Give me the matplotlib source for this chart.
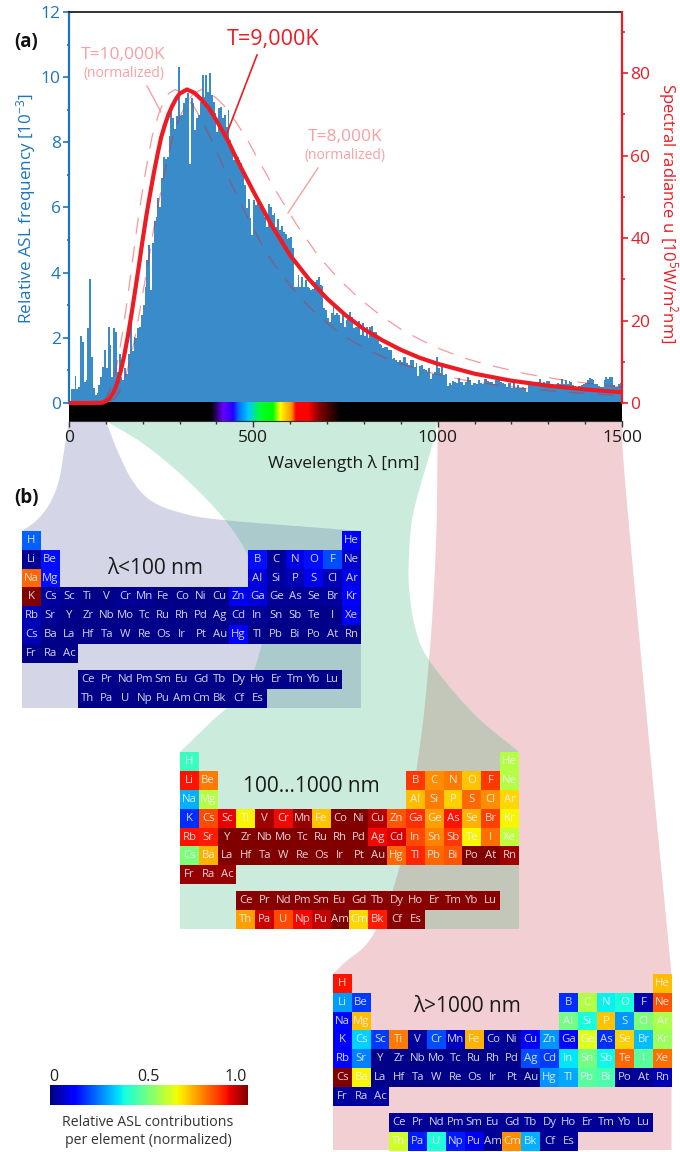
import numpy as np
import matplotlib
matplotlib.use('Agg')
import matplotlib.pyplot as plt
from matplotlib.patches import PathPatch
from matplotlib.path import Path

plt.rc('font', family=['Open Sans', 'DejaVu Sans'], size=12)
plt.rc('mathtext', default='regular')

W, H = 680, 1152

# relative ASL frequency [1e-3], bins of 5 nm
bin_width = 5
asl_freq = [
    .05, .42, .42, .83, .42, .5, 2.05, 1.88, .65, .7,
    2.3, 3.8, 1.42, .45, .25, .3, .55, .8, 1.1, 1.63,
    1.06, 2.34, 1.78, .8, 2.3, 2.19, .96, 1.5, .8, .7,
    1.06, .9, 1.5, 2.7, 1.6, 2.03, 2.0, 2.3, 2.34, 2.7,
    3.0, 3.57, 4.4, 4.85, 3.47, 4.9, 5.6, 5.7, 6.3, 6.0,
    6.9, 7.56, 7.5, 7.56, 8.2, 8.95, 8.75, 8.4, 8.8, 10.3,
    8.8, 8.85, 9.2, 9.35, 9.5, 7.35, 9.35, 9.2, 8.38, 8.74,
    8.84, 9.25, 10.07, 9.4, 10.07, 9.55, 10.12, 9.45, 9.25, 8.89,
    8.33, 9.06, 9.09, 8.74, 8.84, 8.48, 8.99, 8.07, 7.71, 7.46,
    7.51, 7.54, 7.46, 7.36, 7.15, 6.69, 5.97, 6.25, 5.67, 5.16,
    6.23, 6.08, 6.13, 6.03, 5.97, 5.92, 5.72, 5.41, 6.11, 6.03,
    5.77, 5.84, 5.41, 5.64, 5.31, 5.43, 5.26, 5.19, 5.02, 5.05,
    5.1, 4.75, 3.57, 3.57, 3.93, 3.57, 3.88, 3.57, 3.77, 3.57,
    3.52, 3.47, 3.49, 3.72, 3.77, 3.88, 3.62, 3.59, 2.91, 2.85,
    2.6, 2.5, 2.75, 2.96, 2.7, 2.75, 2.7, 2.44, 2.7, 2.34,
    2.55, 2.6, 2.8, 2.65, 2.29, 2.32, 2.32, 2.53, 2.09, 2.47,
    2.06, 2.32, 1.98, 2.34, 2.37, 2.19, 2.19, 1.93, 1.81, 1.78,
    1.68, 1.73, 1.73, 1.63, 1.63, 1.34, 1.37, 1.32, 1.27, 1.32,
    1.27, 1.42, 1.42, 1.22, 1.17, 1.32, 1.32, 1.12, 1.22, .83,
    1.14, 1.17, 1.05, 1.01, .96, 1.08, .73, .9, .95, 1.42,
    1.06, .91, 1.12, .86, .9, .52, .6, .55, .69, .63,
    .6, .76, .65, .65, .55, .65, .81, .71, .55, .6,
    .62, .57, .71, .6, .57, .74, .74, .68, .65, .63,
    .57, .71, .84, .71, .63, .6, .57, .5, .6, .6,
    .47, .6, .45, .55, .47, .45, .5, .45, .35, .69,
    .63, .65, .6, .6, .65, .73, .57, .65, .57, .68,
    .69, .53, .5, .5, .58, .61, .58, .74, .57, .71,
    .58, .68, .65, .55, .53, .5, .53, .53, .55, .57,
    .6, .72, .76, .73, .72, .57, .57, .53, .5, .5,
    .71, .79, .73, .81, .79, .55, .5, .5, .58, .6,
]

# spectral radiance curves, right axis units
wl_9000 = [0, 50, 90, 100, 110, 120, 130, 140, 150, 160, 170, 180, 190, 200, 210, 220, 230, 240, 250,
           260, 270, 280, 290, 300, 320, 340, 360, 380, 400, 430, 460, 500, 550, 600, 650, 700,
           750, 800, 850, 900, 950, 1000, 1100, 1200, 1300, 1400, 1500]
u_9000 = [0, 0, .05, .42, 1.13, 2.46, 4.6, 7.6, 11.6, 16.4, 21.8, 27.6, 33.5, 39.7, 45.5, 50.7, 55.7, 60.2, 64.4,
          67.4, 70, 72, 73.7, 75, 76, 75.2, 73.5, 71.4, 68.5, 63.8, 58.2, 51.3, 43, 35.8, 30.1, 25.3,
          21.3, 17.9, 15.2, 12.9, 11, 9.5, 7.1, 5.4, 4.2, 3.3, 2.6]
wl_10000 = [90, 99, 108, 117, 126, 135, 144, 153, 162, 171, 180, 189, 198, 207, 216, 225, 234,
            243, 252, 261, 270, 288, 306, 324, 342, 360, 387, 414, 450, 495, 540, 585, 630, 675,
            720, 765, 810, 855, 900, 990, 1080, 1170, 1260, 1350, 1500]
u_10000 = [.42, 1.13, 2.46, 4.6, 7.6, 11.6, 16.4, 21.8, 27.6, 33.5, 39.7, 45.5, 50.7, 55.7, 60.2, 64.4, 67.4,
           70, 72, 73.7, 75, 76, 75.2, 73.5, 71.4, 68.5, 63.8, 58.2, 51.3, 43, 35.8, 30.1, 25.3, 21.3,
           17.9, 15.2, 12.9, 11, 9.5, 7.1, 5.4, 4.2, 3.3, 2.6, 1.8]
wl_8000 = [112, 124, 135, 146, 157, 169, 180, 191, 202, 214, 225, 236, 248, 259, 270, 281, 292,
           304, 315, 326, 338, 360, 382, 405, 428, 450, 484, 518, 562, 619, 675, 731, 788, 844,
           900, 956, 1012, 1069, 1125, 1238, 1350, 1462, 1500]
u_8000 = [.42, 1.13, 2.46, 4.6, 7.6, 11.6, 16.4, 21.8, 27.6, 33.5, 39.7, 45.5, 50.7, 55.7, 60.2, 64.4, 67.4,
          70, 72, 73.7, 75, 76, 75.2, 73.5, 71.4, 68.5, 63.8, 58.2, 51.3, 43, 35.8, 30.1, 25.3, 21.3,
          17.9, 15.2, 12.9, 11, 9.5, 7.1, 5.4, 4.2, 3.8]

# visible spectrum strip under the histogram
spec_wl = [0, 385, 418, 445, 460, 486, 518, 553, 572, 604, 615, 648, 680, 735, 1500]
spec_rgb = ['#000000', '#000000', '#6600ff', '#2200ff', '#0070ff', '#00c8ff', '#00ff30', '#00ff00',
            '#ffff00', '#ff9000', '#ff0000', '#ff0000', '#800000', '#000000', '#000000']

# periodic table layout
row_syms = [
    ['H', 'He'],
    ['Li', 'Be', 'B', 'C', 'N', 'O', 'F', 'Ne'],
    ['Na', 'Mg', 'Al', 'Si', 'P', 'S', 'Cl', 'Ar'],
    ['K', 'Cs', 'Sc', 'Ti', 'V', 'Cr', 'Mn', 'Fe', 'Co', 'Ni', 'Cu', 'Zn', 'Ga', 'Ge', 'As', 'Se', 'Br', 'Kr'],
    ['Rb', 'Sr', 'Y', 'Zr', 'Nb', 'Mo', 'Tc', 'Ru', 'Rh', 'Pd', 'Ag', 'Cd', 'In', 'Sn', 'Sb', 'Te', 'I', 'Xe'],
    ['Cs', 'Ba', 'La', 'Hf', 'Ta', 'W', 'Re', 'Os', 'Ir', 'Pt', 'Au', 'Hg', 'Tl', 'Pb', 'Bi', 'Po', 'At', 'Rn'],
    ['Fr', 'Ra', 'Ac'],
    ['Ce', 'Pr', 'Nd', 'Pm', 'Sm', 'Eu', 'Gd', 'Tb', 'Dy', 'Ho', 'Er', 'Tm', 'Yb', 'Lu'],
    ['Th', 'Pa', 'U', 'Np', 'Pu', 'Am', 'Cm', 'Bk', 'Cf', 'Es'],
]
row_pos = [0, 1, 2, 3, 4, 5, 6, 8, 9]
row_cols = [[0, 17], [0, 1, 12, 13, 14, 15, 16, 17], [0, 1, 12, 13, 14, 15, 16, 17],
            list(range(18)), list(range(18)), list(range(18)), [0, 1, 2],
            list(range(3, 17)), list(range(3, 13))]

# contributions per element, colours read back through the jet scale
vals_low = [
    [.22, .12],
    [.02, .14, .14, .02, .09, .14, .2, .07],
    [.8, .14, .08, .03, .05, .1, .05, .09],
    [1.0, .03, .02, .01, .01, .02, .02, .01, .01, .01, .01, .1, .08, .02, .02, .02, .03, .12],
    [.05, .02, .01, .01, .01, .01, .01, .01, .01, .01, .01, .03, .02, .01, .01, .01, .01, .1],
    [.05, .01, .01, .01, .01, .01, .01, .01, .01, .01, .01, .12, .01, .01, .01, .01, .01, .01],
    [.01, .01, .01],
    [.01] * 14,
    [.01] * 10,
]
vals_mid = [
    [.42, .57],
    [.89, .78, .85, .76, .78, .70, .85, .57],
    [.3, .57, .71, .78, .69, .8, .76, .68],
    [.17, .83, .91, .65, .97, .9, .98, .7, 1.0, 1.0, .95, .82, .86, .74, .89, .72, .84, .65],
    [.89, .88, 1.0, 1.0, 1.0, 1.0, 1.0, 1.0, 1.0, 1.0, .9, .92, .83, .77, .85, .65, .79, .58],
    [.5, .72, 1.0, 1.0, 1.0, 1.0, 1.0, 1.0, 1.0, 1.0, 1.0, .8, .87, .8, .82, 1.0, 1.0, .97],
    [.98, .98, .98],
    [.99] * 14,
    [.74, .93, .83, .9, .94, 1.0, .68, .88, .99, .99],
]
vals_high = [
    [.89, .71],
    [.28, .18, .17, .57, .36, .38, .04, .82],
    [.13, .71, .49, .38, .7, .27, .5, .56],
    [.11, .33, .18, .78, .03, .2, .06, .72, .03, .02, .11, .27, .13, .62, .17, .69, .31, .54],
    [.13, .25, .01, .01, .01, .01, .01, .01, .01, .01, .2, .18, .35, .49, .37, .8, .46, .79],
    [1.0, .65, .01, .01, .01, .01, .01, .01, .01, .01, .01, .27, .29, .46, .44, .02, .02, .05],
    [.03, .03, .03],
    [.02] * 14,
    [.6, .15, .39, .15, .1, .02, .76, .3, .02, .02],
]

blue = '#1C75BC'
red = '#ED1C24'
pink = '#F8A0A4'
cell = 18.83
gap = 0.39


def px_axes(x, y, w, h, **kw):
    # axes placed by pixel box, y measured from the top
    return fig.add_axes([x / W, 1 - (y + h) / H, w / W, h / H], **kw)


def smooth(pts, n=12):
    # catmull-rom through hand picked outline points
    p = np.array(pts, dtype=float)
    p = np.vstack([2 * p[0] - p[1], p, 2 * p[-1] - p[-2]])
    out = []
    for i in range(1, len(p) - 2):
        for t in np.linspace(0, 1, n, endpoint=False):
            a = 2 * p[i] + (p[i + 1] - p[i - 1]) * t
            b = (2 * p[i - 1] - 5 * p[i] + 4 * p[i + 1] - p[i + 2]) * t ** 2
            c = (-p[i - 1] + 3 * p[i] - 3 * p[i + 1] + p[i + 2]) * t ** 3
            out.append(0.5 * (a + b + c))
    out.append(p[-2])
    return np.array(out)


def ribbon(ax, outline, color, **kw):
    patch = PathPatch(Path(np.vstack(outline + [outline[0][:1]])), fc=color, ec='none', lw=0, **kw)
    ax.add_patch(patch)
    return patch


fig = plt.figure(figsize=(W / 100, H / 100), dpi=100, facecolor='white')

# ribbons linking the wavelength axis to the tables
bg = px_axes(0, 0, W, H, zorder=0)
bg.set_xlim(0, W)
bg.set_ylim(H, 0)
bg.axis('off')

purple_out = [
    smooth([(106, 421), (118, 452), (132, 480), (150, 500), (178, 512), (223, 520), (361, 531)]),
    np.array([(361, 708), (22, 708)]),
    smooth([(22, 531), (37, 520), (50, 503), (59, 480), (65, 445), (69, 421)]),
]
green_out = [
    smooth([(438, 421), (430, 453), (420, 487), (412, 520), (409, 555), (409, 587), (415, 627),
            (429, 660), (473, 713), (519, 752)]),
    np.array([(519, 929), (180, 929)]),
    smooth([(180, 752), (213, 720), (245, 690), (262, 643), (265, 610), (250, 560), (225, 520),
            (187, 480), (145, 445), (106, 421)]),
]
pink_out = [
    smooth([(622, 421), (625, 480), (648, 730), (671.5, 974)]),
    np.array([(671.5, 1150), (333, 1150), (333, 974)]),
    smooth([(342, 965), (373, 935), (400, 865), (420, 745), (429, 660), (434, 587), (436.7, 520),
            (437.5, 453), (438, 421)]),
]
p1 = ribbon(bg, purple_out, '#D5D5E8')
p3 = ribbon(bg, pink_out, '#F1CFD3')
p2 = ribbon(bg, green_out, '#CBEBDD')
ov1 = ribbon(bg, green_out, '#ABCACB')
ov1.set_clip_path(p1)
ov2 = ribbon(bg, green_out, '#C2C7BA')
ov2.set_clip_path(p3)

# panel (a)
ax = px_axes(69, 12, 553, 409, zorder=2)
ax.patch.set_alpha(0)
edges = np.arange(len(asl_freq) + 1) * bin_width
ax.stairs(asl_freq, edges, fill=True, color='#398CC9', lw=0)

spec_r = np.array([matplotlib.colors.to_rgb(c) for c in spec_rgb])
strip_x = np.arange(1500)
strip = np.stack([np.interp(strip_x, spec_wl, spec_r[:, k]) for k in range(3)], axis=-1)[np.newaxis]
ax.imshow(strip, extent=[0, 1500, -0.5525, 0], aspect='auto', zorder=1)

ax.set_xlim(0, 1500)
ax.set_ylim(-0.5525, 12)
ax.set_xticks([0, 500, 1000, 1500])
ax.set_xticks(np.arange(0, 1501, 100), minor=True)
ax.set_yticks(np.arange(0, 13, 2))
ax.set_yticks(np.arange(0, 12.1, 1), minor=True)
ax.tick_params(axis='x', which='major', length=4.5, width=1, color='#333333', labelsize=12.5, pad=2,
               labelcolor='#1a1a1a')
ax.tick_params(axis='x', which='minor', length=2.2, width=1, color='#333333')
ax.tick_params(axis='y', which='major', length=4, width=1.2, color=blue, labelcolor=blue, labelsize=12.5, pad=2)
ax.tick_params(axis='y', which='minor', length=1.6, width=1.2, color=blue)
ax.spines['left'].set_bounds(0, 12)
ax.spines['left'].set_color(blue)
ax.spines['left'].set_linewidth(1.6)
ax.spines['top'].set_color('#222222')
ax.spines['top'].set_linewidth(1.3)
ax.spines['bottom'].set_color('#333333')
ax.spines['right'].set_visible(False)

ax2 = ax.twinx()
ax2.set_zorder(3)
ax2.set_ylim(-18 / 4.125, 391 / 4.125)
ax2.set_yticks(np.arange(0, 81, 20))
ax2.set_yticks(np.arange(0, 91, 10), minor=True)
ax2.tick_params(axis='y', which='major', length=4, width=1.2, color=red, labelcolor=red, labelsize=12.5, pad=2)
ax2.tick_params(axis='y', which='minor', length=1.8, width=1.2, color=red)
for side in ['left', 'top', 'bottom']:
    ax2.spines[side].set_visible(False)
ax2.spines['right'].set_bounds(0, 391 / 4.125)
ax2.spines['right'].set_color(red)
ax2.spines['right'].set_linewidth(1.6)

ax2.plot(wl_10000, u_10000, color=red, alpha=0.45, lw=0.9, ls=(0, (13, 10)))
ax2.plot(wl_8000, u_8000, color=red, alpha=0.45, lw=0.9, ls=(0, (13, 10)))
ax2.plot(wl_9000, u_9000, color=red, lw=3.0, solid_joinstyle='round', solid_capstyle='butt')

# panel (b), one table axes per wavelength range
y_edges = np.r_[np.arange(8.0), 7 + gap, 8 + gap, 9 + gap]
tables = [(vals_low, 22, 531), (vals_mid, 180, 752.3), (vals_high, 333, 974)]
for vals, x0, y0 in tables:
    tab = px_axes(x0, y0, 18 * cell, (9 + gap) * cell, zorder=1)
    tab.axis('off')
    grid = np.full((10, 18), np.nan)
    for r, cols, row in zip(row_pos, row_cols, vals):
        grid[r, cols] = row
    tab.pcolormesh(np.arange(19), y_edges, np.ma.masked_invalid(grid), cmap='jet', vmin=0, vmax=1)
    tab.set_xlim(0, 18)
    tab.set_ylim(9 + gap, 0)
    for r, cols, syms in zip(row_pos, row_cols, row_syms):
        yc = r + 0.5 - (1 - gap if r > 7 else 0)
        for c, s in zip(cols, syms):
            tab.text(c + 0.5, yc, s, color='#F2F2F8', alpha=0.88, fontsize=8.2, ha='center', va='center')

# colour scale
cb = px_axes(50, 1085, 197, 20, zorder=1)
cb.imshow(np.linspace(0, 1, 256)[np.newaxis], cmap='jet', aspect='auto', vmin=0, vmax=1)
cb.axis('off')

# all free text and leader lines in pixel coordinates on top
top = px_axes(0, 0, W, H, zorder=5)
top.set_xlim(0, W)
top.set_ylim(H, 0)
top.axis('off')
top.patch.set_alpha(0)

top.text(14, 42, '(a)', fontsize=13.5, fontweight='bold', color='#111111', ha='left', va='center')
top.text(14, 498, '(b)', fontsize=13.5, fontweight='bold', color='#111111', ha='left', va='center')
top.text(344, 463, 'Wavelength λ [nm]', fontsize=12.5, color='#1a1a1a', ha='center', va='center')
top.text(26, 208, 'Relative ASL frequency [10$^{-3}$]', fontsize=12.3, color=blue, rotation=90,
         ha='center', va='center')
top.text(668, 213, 'Spectral radiance u [10$^{5}$W/m$^{2}$nm]', fontsize=12, color=red, rotation=270,
         ha='center', va='center')

top.text(273, 39, 'T=9,000K', fontsize=15.5, color=red, ha='center', va='center')
top.plot([257, 227], [55, 133], color=red, lw=1.2)
top.text(123, 55, 'T=10,000K', fontsize=12.6, color=pink, ha='center', va='center')
top.text(124, 74, '(normalized)', fontsize=10, color=pink, ha='center', va='center')
top.plot([147, 161], [86, 112], color=pink, lw=1)
top.text(345, 137, 'T=8,000K', fontsize=12.6, color=pink, ha='center', va='center')
top.text(345, 156, '(normalized)', fontsize=10, color=pink, ha='center', va='center')
top.plot([318, 288], [168, 213], color=pink, lw=1)

top.text(155, 569, 'λ<100 nm', fontsize=15, color='#1a1a1a', ha='center', va='center')
top.text(311, 787, '100...1000 nm', fontsize=15, color='#1a1a1a', ha='center', va='center')
top.text(467, 1007, 'λ>1000 nm', fontsize=15, color='#1a1a1a', ha='center', va='center')

top.text(54, 1077, '0', fontsize=11.5, color='#222222', ha='center', va='center')
top.text(148, 1077, '0.5', fontsize=11.5, color='#222222', ha='center', va='center')
top.text(236, 1077, '1.0', fontsize=11.5, color='#222222', ha='center', va='center')
top.text(148, 1122, 'Relative ASL contributions', fontsize=10.2, color='#333333', ha='center', va='center')
top.text(148, 1141, 'per element (normalized)', fontsize=10.2, color='#333333', ha='center', va='center')

plt.savefig('out.png', dpi=100)
